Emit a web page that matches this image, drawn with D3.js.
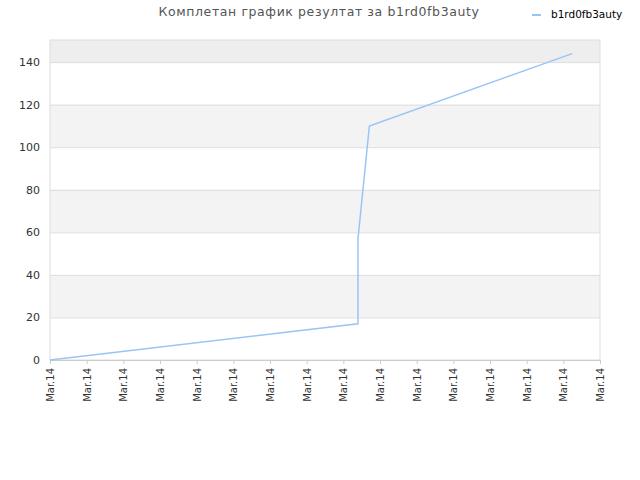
<!DOCTYPE html>
<html>
<head>
<meta charset="utf-8">
<script src="https://cdn.jsdelivr.net/npm/d3@7"></script>
<style>
  body { margin: 0; background: #fff; }
  text { font-family: 'DejaVu Sans', sans-serif; }
</style>
</head>
<body>
<svg width="640" height="480"></svg>
<script>
const titleText = 'Комплетан график резултат за b1rd0fb3auty';
const seriesName = 'b1rd0fb3auty';
// x in tick steps (all ticks read "Mar.14"), y = score
const xPoints = [0, 8.4, 8.4, 8.71, 14.24];
const yPoints = [0, 17, 57, 110, 144];
const xTickValues = d3.range(16);
const xTickLabels = xTickValues.map(() => 'Mar.14');
const yTickValues = [0, 20, 40, 60, 80, 100, 120, 140];
const bands = [[20, 40], [60, 80], [100, 120]];

const svg = d3.select('svg');
const width  = +svg.attr('width');
const height = +svg.attr('height');
const margin = { top: 40, bottom: 120, left: 50, right: 40 };
const innerWidth = width - margin.left - margin.right;
const innerHeight = height - margin.top - margin.bottom;

const g = svg.append('g')
  .attr('transform', `translate(${margin.left},${margin.top})`);

const xScale = d3.scaleLinear().domain([0, 15]).range([0, innerWidth]);
const yScale = d3.scaleLinear().domain([0, 150.4]).range([innerHeight, 0]);

// alternating bands
g.selectAll('rect.band')
  .data(bands).enter()
  .append('rect')
    .attr('class', 'band')
    .attr('x', 0)
    .attr('width', innerWidth)
    .attr('y', d => yScale(d[1]))
    .attr('height', d => yScale(d[0]) - yScale(d[1]))
    .attr('fill', '#f3f3f3');
g.append('rect')
  .attr('x', 0).attr('width', innerWidth)
  .attr('y', 0).attr('height', yScale(140))
  .attr('fill', '#eeeeee');

// grid lines
const yAxis = d3.axisLeft(yScale).tickValues(yTickValues).tickSize(-innerWidth).tickPadding(10);
const yAxisG = g.append('g').call(yAxis);
yAxisG.select('.domain').remove();
yAxisG.selectAll('.tick line').attr('stroke', '#dddddd');
yAxisG.selectAll('.tick text')
  .style('font-size', '11px')
  .attr('fill', '#333');

// plot border
g.append('rect')
  .attr('x', 0).attr('y', 0)
  .attr('width', innerWidth).attr('height', innerHeight)
  .attr('fill', 'none')
  .attr('stroke', '#dddddd');

const xAxis = d3.axisBottom(xScale)
  .tickValues(xTickValues)
  .tickFormat((d, i) => xTickLabels[i])
  .tickSize(4);
const xAxisG = g.append('g')
  .attr('transform', `translate(0,${innerHeight})`)
  .call(xAxis);
xAxisG.select('.domain').attr('stroke', '#cccccc');
xAxisG.selectAll('.tick line').attr('stroke', '#cccccc');
xAxisG.selectAll('.tick text')
  .style('font-size', '10px')
  .attr('fill', '#333')
  .attr('text-anchor', 'end')
  .attr('transform', 'rotate(-90)')
  .attr('x', -8)
  .attr('y', 0)
  .attr('dy', '0.35em');

// series line
const line = d3.line()
  .x(d => xScale(d[0]))
  .y(d => yScale(d[1]));
g.append('path')
  .datum(d3.zip(xPoints, yPoints))
  .attr('d', line)
  .attr('fill', 'none')
  .attr('stroke', '#99c5f5')
  .attr('stroke-width', 1.5);

// title
svg.append('text')
  .attr('x', 319)
  .attr('y', 16)
  .attr('text-anchor', 'middle')
  .attr('fill', '#555')
  .style('font-size', '12.5px')
  .style('letter-spacing', '0.6px')
  .text(titleText);

// legend
svg.append('line')
  .attr('x1', 532).attr('x2', 541)
  .attr('y1', 15).attr('y2', 15)
  .attr('stroke', '#99c5f5')
  .attr('stroke-width', 2);
svg.append('text')
  .attr('x', 551)
  .attr('y', 18)
  .attr('fill', '#000')
  .style('font-size', '10.5px')
  .text(seriesName);
</script>
</body>
</html>
